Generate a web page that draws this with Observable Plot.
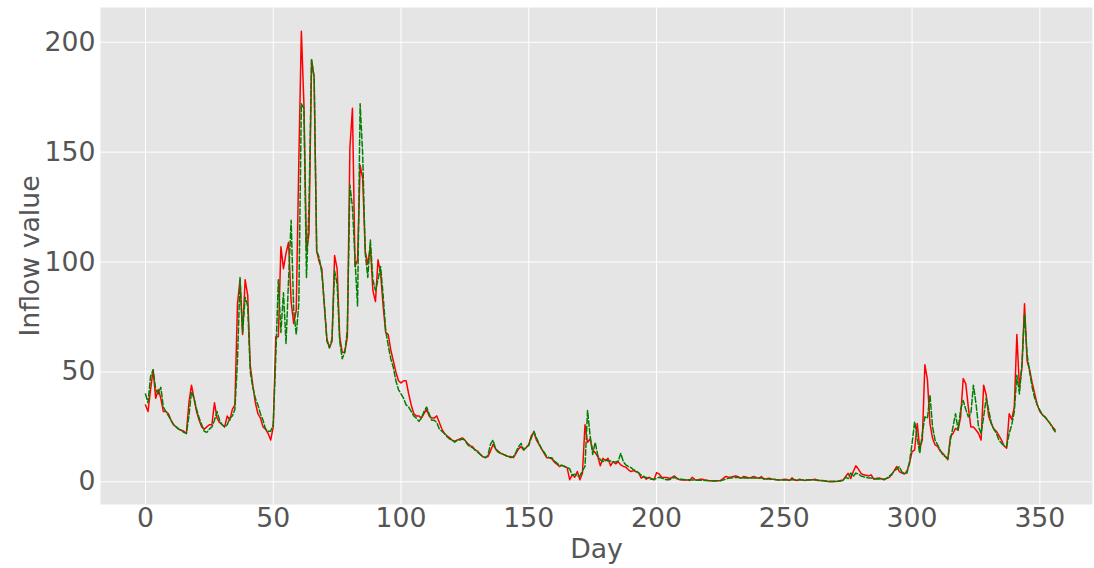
<!DOCTYPE html>
<html><head><meta charset="utf-8">
<script src="https://cdn.jsdelivr.net/npm/d3@7"></script>
<script src="https://cdn.jsdelivr.net/npm/@observablehq/plot@0.6"></script>
<style>
html,body{margin:0;padding:0;background:#fff;}
</style></head><body><div id="chart"></div>
<script>
// red solid series (day index = position in array)
const observed = [
35,32,42,51,38,42,38,32,32,31,
28,26,25,24,23.5,23,22,36,44,38,
32,28,25,24,25,26,26,36,29,27,
26,25,30,28,33,35,81,92,67,92,
85,53,44,36,31,29,25,24,22,19,
25,66,66,107,97,104,109,82,72,78,
145,205,172,105,113,192,184,105,100,97,
80,65,61,64,103,97,66,59,59,66,
152,170,98,101,144,138,105,99,107,87,
82,101,95,80,68,67,60,55,50,46,
45,46,46,40,35,31,30,30,29,31,
33,30,29,29,30,27,
24,22,21,20,19,18.5,19,19.5,20,19,
17.5,16.5,16,14.5,14,12.5,11.5,11,11.5,14,
17,15,14,13,12.5,12,11.5,11.5,11,13,
15,16,14.5,15.5,17,21,22.5,19,17,15,
13,11,11,10.5,9,8,
7,7.5,7,6.5,1,3.2,2.1,4.7,1,3.9,
26,18,19.5,14.5,13.3,11.5,7.3,10.7,9.6,10.7,
7.3,9.2,8.2,9.2,7.7,7,6.7,5.5,4.7,5.1,
4.6,4.2,1.7,2.5,1.2,2.1,1.5,0.9,4.2,3.6,
2.1,2,2,1.5,2,2.7,1.5,1,0.9,0.8,
0.8,0.6,2.1,1,0.8,1.2,
1.2,0.8,0.6,0.5,0.4,0.4,0.5,0.6,1.5,2.4,
2.2,2.1,2.4,2.7,2.3,1.6,2.4,2.2,1.8,2,
2.4,2,1.6,2.4,1.2,1.4,1.6,1.3,1.2,1,
0.9,1,1.2,1.1,0.6,1.8,0.8,0.6,1.2,0.9,
0.6,0.8,1,1,1.2,0.6,0.6,0.6,0.4,0.2,
0,0.1,0.2,0.3,0.6,0.8,2.4,3.9,1.5,4.7,
7.3,5.8,3.9,3.2,3,2.7,3.2,1.2,1.5,1.8,
1.4,0.9,1.6,2,3.2,5.1,7,4.7,4,3.6,
5,8.5,13.8,14.5,26.6,15.3,19,53.3,46.5,26.6,
19.8,16.8,16.1,14,13,11.5,10.1,20.6,22,24.3,
23.6,29.6,47,44.7,34,25,25,23.6,22,19,
44,39.5,29.6,26.6,24,23,21,
19,16.3,15.3,31,28.4,34,67,43,52,81,
55,51,45,40,35,32,30.5,29.6,28,26.6,
25,23.6
];
// green dashed series
const simulated = [
40,36,48,51,42,40,43,34,32,30,
28,26,25,24,23.5,22.5,22,30,41,38,
33,29,26,23,22.5,24,25,28,32,28,
26,25,26,29,30,33,55,93,68,84,
80,50,43,38,35,31,28,24,23,23,
26,57,92,68,86,63,92,119,78,67,
81,172,170,93,126,192,184,105,102,95,
81,64,61,65,96,90,64,56,59,69,
135,125,101,80,172,149,104,93,110,92,
87,92,98,85,69,62,56,52,46,42,
40,38,35,34,32,30,29,27.5,29,32,
34,31,28,28,27,24,
23,22,20.5,19.5,19,18,19,19,19.5,19,
17,16,15.5,14.5,13.5,12.5,11.5,11,12,17,
19,15,13.5,13,12.5,12,11.5,11,11.5,13.5,
16,17.5,14.5,16,16.5,20,23,20,17.5,15,
13.5,11.5,11,11,9.5,8.5,
7.5,7.5,7,6.5,6,3,3.5,2.5,2.7,5,
7,32.5,21,12.5,18,12,10,9.2,10,9.5,
9.5,9,9,9.5,13,9.2,7.7,7,6.5,5.5,
5,4,3,2.2,2,1.5,1.2,1.2,1.5,2.1,
1.8,1.2,1,1,1.5,2.1,1.5,1.2,1.2,1,
1,1,0.8,0.8,0.7,0.7,
0.7,0.6,0.6,0.5,0.5,0.5,0.5,0.5,0.8,1.2,
1.6,1.8,1.9,2,2,1.8,1.8,1.9,1.7,1.7,
1.8,1.8,1.7,1.7,1.5,1.3,1.3,1.2,1.1,1,
0.9,0.9,0.9,0.9,0.8,1,1,0.8,0.8,0.8,
0.8,0.8,0.8,0.9,0.9,0.8,0.6,0.5,0.4,0.3,
0.3,0.3,0.3,0.3,0.4,0.6,2.2,1.5,4,2.5,
4,3.5,2.7,2.3,2,1.8,1.8,1.6,1.3,1.4,
1.2,1.2,1.6,2.5,3.5,5,5.8,6.9,4.5,3.8,
4,9.2,17.5,27.4,20,12.9,22,29.6,28.9,39.5,
25,19,16.8,14.5,12.2,11.5,10.7,19,25,31,
23.5,33,37,33,29.6,31,44,35.7,25,22,
29.6,38,32.6,26.6,24,22,19,
17.5,16.5,16.1,22,26,32,48.5,40,54,76.5,
58,50,43,38,35,32.6,30.4,29.5,28,26.5,
24.5,22.8
];
const xTicks = [0, 50, 100, 150, 200, 250, 300, 350];
const yTicks = [0, 50, 100, 150, 200];
const xLabel = "Day";
const yLabel = "Inflow value";

const obsData = observed.map((v, i) => ({day: i, value: v}));
const simData = simulated.map((v, i) => ({day: i, value: v}));

const font = "DejaVu Sans";
const chart = Plot.plot({
  width: 1094, height: 568,
  marginLeft: 100, marginRight: 2, marginTop: 7, marginBottom: 64,
  style: {fontFamily: font, fontSize: "26.7px", color: "#555555", background: "#ffffff"},
  x: {domain: [-17.6, 370.6], label: null},
  y: {domain: [-10.3, 215.8], label: null},
  marks: [
    Plot.frame({fill: "#E5E5E5", stroke: "none"}),
    Plot.gridX(xTicks, {stroke: "#ffffff", strokeOpacity: 1, strokeWidth: 1}),
    Plot.gridY(yTicks, {stroke: "#ffffff", strokeOpacity: 1, strokeWidth: 1}),
    Plot.line(obsData, {x: "day", y: "value", stroke: "#ff0000", strokeWidth: 1.5}),
    Plot.line(simData, {x: "day", y: "value", stroke: "#008000", strokeWidth: 1.5, strokeDasharray: "5.5,2.4"}),
    Plot.axisX({ticks: xTicks, tickSize: 0, tickPadding: 4, label: null, fontSize: 26.7, fill: "#555555"}),
    Plot.axisY({ticks: yTicks, tickSize: 0, tickPadding: 5, label: null, fontSize: 26.7, fill: "#555555"}),
    Plot.text([xLabel], {text: d => d, frameAnchor: "bottom", lineAnchor: "middle", textAnchor: "middle", dy: 44.5, fontSize: 26.7, fill: "#555555"}),
    Plot.text([yLabel], {text: d => d, frameAnchor: "left", lineAnchor: "middle", textAnchor: "middle", dx: -70, rotate: -90, fontSize: 26.7, fill: "#555555"})
  ]
});
document.getElementById("chart").appendChild(chart);
</script>
</body></html>
